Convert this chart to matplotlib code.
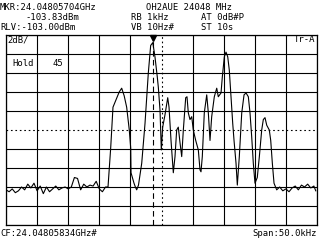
import numpy as np
import matplotlib
matplotlib.use("Agg")
import matplotlib.pyplot as plt

# spectrum analyzer settings (from screen header)
cf_ghz = 24.04805834
mkr_ghz = 24.04805704
span_khz = 50.0
ref_level = -103.0
db_per_div = 2.0

# trace: frequency offset from CF (kHz) and level (dBm)
freq_khz = [-25.0, -24.5, -24.0, -23.5, -23.0, -22.5, -22.0, -21.5, -21.0, -20.5,
            -20.0, -19.5, -19.0, -18.5, -18.0, -17.5, -17.0, -16.5, -16.0, -15.5,
            -15.0, -14.5, -14.0, -13.5, -13.0, -12.5, -12.0, -11.5, -11.0, -10.5,
            -10.0, -9.5, -9.0, -8.6, -8.17, -7.8, -7.3, -6.8, -6.4, -6.0,
            -5.6, -5.18, -4.95, -4.9, -4.42, -4.2, -3.99, -3.7, -3.18, -2.65,
            -2.12, -1.74, -1.4, -1.05, -0.68, -0.51, -0.24, -0.03, 0.19, 0.56,
            1.0, 1.21, 1.53, 1.9, 2.17, 2.44, 2.7, 2.97, 3.25, 3.51,
            3.89, 4.1, 4.31, 4.58, 4.86, 5.11, 5.5, 5.92, 6.19, 6.35,
            6.56, 6.88, 7.27, 7.53, 7.8, 8.07, 8.49, 8.88, 9.13, 9.57,
            9.78, 10.1, 10.37, 10.65, 10.9, 11.18, 11.45, 11.66, 11.98, 12.19,
            12.51, 12.9, 13.27, 13.59, 13.96, 14.23, 14.5, 14.76, 15.03, 15.4,
            15.73, 16.11, 16.37, 16.64, 16.92, 17.33, 17.56, 17.82, 18.09, 18.52,
            19.0, 19.5, 20.0, 20.5, 21.0, 21.5, 22.0, 22.5, 23.0, 23.5,
            24.0, 24.5, 24.8]
level_dbm = [-119.3, -119.5, -119.2, -119.6, -119.4, -119.0, -119.3, -118.7, -119.1, -118.6,
             -119.4, -118.9, -119.7, -119.0, -119.5, -119.2, -118.9, -119.3, -119.1, -119.0,
             -119.2, -119.0, -118.0, -118.1, -119.3, -118.7, -119.0, -118.8, -118.9, -118.4,
             -119.2, -119.5, -119.0, -119.0, -114.9, -110.6, -109.8, -109.0, -108.6, -109.4,
             -110.6, -113.0, -114.9, -117.5, -118.6, -119.0, -119.3, -118.8, -116.5, -112.3,
             -107.0, -104.1, -103.8, -105.3, -107.4, -108.5, -110.9, -115.1, -112.7, -111.4,
             -109.6, -110.6, -114.1, -117.5, -115.8, -113.0, -112.7, -114.3, -115.8, -113.0,
             -109.6, -109.5, -111.2, -111.9, -111.6, -113.0, -114.1, -115.1, -117.2, -117.4,
             -115.8, -111.2, -109.3, -111.2, -114.1, -111.6, -109.5, -108.6, -109.5, -109.1,
             -107.4, -105.3, -104.8, -105.3, -106.7, -109.5, -112.3, -114.1, -116.5, -118.8,
             -115.8, -111.2, -109.3, -109.1, -109.5, -111.2, -113.7, -116.5, -118.6, -118.0,
             -115.8, -113.0, -111.9, -111.7, -112.5, -113.0, -114.1, -116.5, -118.6, -119.3,
             -119.0, -119.4, -119.2, -119.5, -119.1, -118.9, -119.3, -118.8, -119.0, -118.7,
             -119.1, -118.9, -119.4]

W, H = 320, 240
fig = plt.figure(figsize=(W / 100, H / 100), dpi=100)
fig.patch.set_facecolor("white")

# graticule: x 6..317 px, y 35..225 px
ax = fig.add_axes([6 / W, 1 - 225 / H, 311 / W, 190 / H])
bottom = ref_level - 10 * db_per_div
ax.set_xlim(-span_khz / 2, span_khz / 2)
ax.set_ylim(bottom, ref_level)
ax.set_xticks(np.linspace(-span_khz / 2, span_khz / 2, 11))
ax.set_yticks(np.linspace(bottom, ref_level, 11))
ax.tick_params(length=0, labelbottom=False, labelleft=False)
ax.grid(True, color="black", lw=0.8)
ax.get_xgridlines()[5].set_linestyle((0, (1.5, 2.5)))
ax.get_ygridlines()[5].set_linestyle((0, (1.5, 2.5)))
for s in ax.spines.values():
    s.set_linewidth(0.9)

ax.plot(freq_khz, level_dbm, color="black", lw=0.8)

# marker
mkr = (mkr_ghz - cf_ghz) * 1e6
ax.axvline(mkr, color="black", lw=0.8, ls=(0, (5, 3)))
ax.plot([mkr], [ref_level - 0.35], marker="v", color="black", ms=5, clip_on=False)

font = dict(family="DejaVu Sans Mono", fontsize=6.4, color="black")

def txt(x, y, s, ha="left"):
    fig.text(x / W, 1 - y / H, s, ha=ha, va="center", **font)

txt(0, 7, "MKR:%.8fGHz" % mkr_ghz)
txt(25, 17, "-103.83dBm")
txt(0, 27, "RLV:%.2fdBm" % ref_level)
txt(146, 7, "OH2AUE 24048 MHz")
txt(131, 17, "RB 1kHz")
txt(131, 27, "VB 10Hz#")
txt(201, 17, "AT 0dB#P")
txt(201, 27, "ST 10s")
txt(7, 40, "2dB/")
txt(12, 63, "Hold")
txt(63, 63, "45", ha="right")
txt(315, 40, "Tr-A", ha="right")
txt(0, 233, "CF:%.8fGHz#" % cf_ghz)
txt(317, 233, "Span:%.1fkHz" % span_khz, ha="right")

fig.savefig("out.png", dpi=100)
